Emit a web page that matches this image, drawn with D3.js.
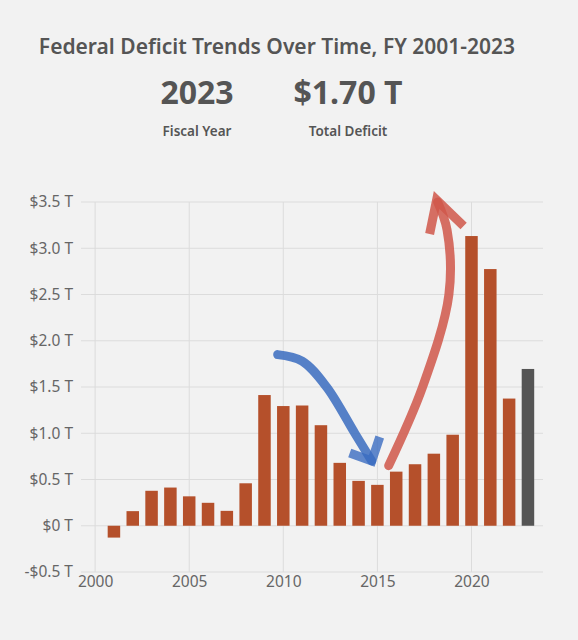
<!DOCTYPE html>
<html><head><meta charset="utf-8">
<script src="https://cdn.jsdelivr.net/npm/d3@7"></script>
<style>
body{margin:0;background:#f2f2f2;font-family:"Noto Sans","Open Sans",sans-serif;}
</style></head>
<body><div id="chart"></div>
<script>
const years=[2001,2002,2003,2004,2005,2006,2007,2008,2009,2010,2011,2012,2013,2014,2015,2016,2017,2018,2019,2020,2021,2022,2023];
const deficits=[-0.128,0.158,0.378,0.413,0.318,0.248,0.161,0.459,1.413,1.294,1.300,1.087,0.680,0.485,0.442,0.585,0.665,0.779,0.984,3.132,2.775,1.375,1.695];
const yTicks=[-0.5,0,0.5,1,1.5,2,2.5,3,3.5];
const xTicks=[2000,2005,2010,2015,2020];
const blueArrow=[[2009.7,1.85],[2011,1.78],[2012.3,1.5],[2013.8,1.0],[2014.7,0.7]];
const redArrow=[[2015.6,0.65],[2017.4,1.5],[2018.8,2.5],[2018.7,3.2],[2018.2,3.5]];

const width=578,height=640;
const margin={top:202,right:35,bottom:68,left:81};
const svg=d3.select("#chart").append("svg").attr("width",width).attr("height",height);
const x=d3.scaleLinear().domain([1999.25,2023.8]).range([margin.left,width-margin.right]);
const y=d3.scaleLinear().domain([-0.5,3.5]).range([height-margin.bottom,margin.top]);

// grid
svg.append("g").selectAll("line").data(yTicks).enter().append("line")
  .attr("x1",margin.left).attr("x2",width-margin.right)
  .attr("y1",d=>y(d)).attr("y2",d=>y(d)).attr("stroke","#dcdcdc");
svg.append("g").selectAll("line").data(xTicks).enter().append("line")
  .attr("x1",d=>x(d)).attr("x2",d=>x(d))
  .attr("y1",margin.top).attr("y2",height-margin.bottom).attr("stroke","#dcdcdc");

const yAxis=d3.axisLeft(y).tickValues(yTicks).tickSize(0).tickPadding(8)
  .tickFormat(d=>(d<0?"-":"")+"$"+(d==0?"0":Math.abs(d).toFixed(1))+" T");
const gy=svg.append("g").attr("transform","translate("+margin.left+",0)").call(yAxis);
const xAxis=d3.axisBottom(x).tickValues(xTicks).tickSize(0).tickPadding(4).tickFormat(d3.format("d"));
const gx=svg.append("g").attr("transform","translate(0,"+(height-margin.bottom)+")").call(xAxis);
[gx,gy].forEach(g=>{g.select(".domain").remove();g.selectAll("text").attr("fill","#666").style("font-size","15.5px").style("font-family","'Noto Sans',sans-serif");});

const bw=12.5;
svg.append("g").selectAll("rect").data(years).enter().append("rect")
  .attr("x",d=>x(d)-bw/2).attr("width",bw)
  .attr("y",(d,i)=>y(Math.max(0,deficits[i])))
  .attr("height",(d,i)=>Math.abs(y(deficits[i])-y(0)))
  .attr("fill",d=>d==2023?"#555555":"#b5502b");

// hand-drawn arrows
const line=d3.line().x(d=>x(d[0])).y(d=>y(d[1])).curve(d3.curveCatmullRom);
svg.append("path").attr("d",line(blueArrow)).attr("fill","none")
  .attr("stroke","#3a6cc0").attr("stroke-width",9).attr("stroke-opacity",0.85).attr("stroke-linecap","round");
const bEnd=blueArrow[blueArrow.length-1];
svg.append("path").attr("d",d3.line()([[x(bEnd[0])-22,y(bEnd[1])-8],[x(bEnd[0]),y(bEnd[1])],[x(bEnd[0])+8,y(bEnd[1])-24]]))
  .attr("fill","none").attr("stroke","#3a6cc0").attr("stroke-width",9).attr("stroke-opacity",0.8);
svg.append("path").attr("d",line(redArrow)).attr("fill","none")
  .attr("stroke","#d0574a").attr("stroke-width",9).attr("stroke-opacity",0.85).attr("stroke-linecap","round");
const rEnd=redArrow[redArrow.length-1];
svg.append("path").attr("d",d3.line()([[x(rEnd[0])-8,y(rEnd[1])+32],[x(rEnd[0])-1,y(rEnd[1])-2],[x(rEnd[0])+26,y(rEnd[1])+24]]))
  .attr("fill","none").attr("stroke","#d0574a").attr("stroke-width",9).attr("stroke-opacity",0.85);

// titles
svg.append("text").attr("x",width/2-12).attr("y",54).attr("text-anchor","middle")
  .attr("fill","#555").style("font-size","21px").style("font-weight","600").text("Federal Deficit Trends Over Time, FY 2001-2023");
svg.append("text").attr("x",197).attr("y",104).attr("text-anchor","middle")
  .attr("fill","#555").style("font-size","32px").style("font-weight","bold").text("2023");
svg.append("text").attr("x",348).attr("y",104).attr("text-anchor","middle")
  .attr("fill","#555").style("font-size","32px").style("font-weight","bold").text("$1.70 T");
svg.append("text").attr("x",197).attr("y",136).attr("text-anchor","middle")
  .attr("fill","#555").style("font-size","13.5px").style("font-weight","600").text("Fiscal Year");
svg.append("text").attr("x",348).attr("y",136).attr("text-anchor","middle")
  .attr("fill","#555").style("font-size","13.5px").style("font-weight","600").text("Total Deficit");
</script></body></html>
